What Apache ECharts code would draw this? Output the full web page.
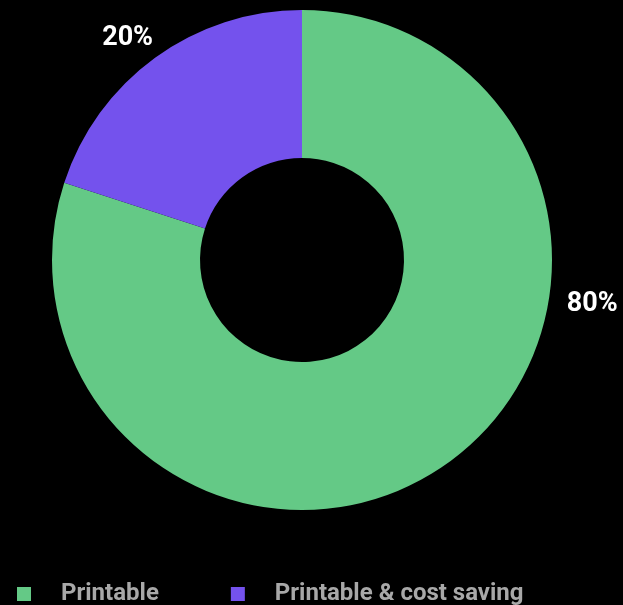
<!DOCTYPE html>
<html>
<head>
<meta charset="utf-8">
<script src="https://cdn.jsdelivr.net/npm/echarts@6/dist/echarts.min.js"></script>
<style>
html,body{margin:0;padding:0;background:#000;}
#chart{width:623px;height:605px;}
</style>
</head>
<body>
<div id="chart"></div>
<script>
var categories = ['Printable', 'Printable & cost saving'];
var values = [80, 20];
var colors = ['#64C986', '#7452ED'];

var chart = echarts.init(document.getElementById('chart'), null, {renderer: 'canvas'});
var CX = 302, CY = 260, R_OUT = 250, R_IN = 102;
// label placement (degrees clockwise from 12 o'clock, distance from centre)
var labelAngles = [98.7, 321.8];
var labelDist = [293.5, 282];

chart.setOption({
  backgroundColor: '#000',
  animation: false,
  color: colors,
  legend: {
    data: categories,
    left: 17,
    top: 582,
    padding: 0,
    icon: 'rect',
    itemWidth: 14,
    itemHeight: 14,
    itemGap: 72,
    textStyle: {
      color: '#a8a8a8',
      fontSize: 24,
      fontWeight: 'bold',
      fontFamily: 'Roboto',
      padding: [0, 0, 0, 25]
    }
  },
  series: [{
    type: 'pie',
    center: [CX, CY],
    radius: [R_IN, R_OUT],
    startAngle: 90,
    clockwise: true,
    avoidLabelOverlap: false,
    itemStyle: {borderWidth: 0},
    label: {
      show: true,
      position: 'outside',
      formatter: function (p) { return p.percent.toFixed(0) + '%'; },
      color: '#ffffff',
      fontSize: 27,
      fontWeight: 'bold',
      fontFamily: 'Roboto'
    },
    labelLine: {show: false},
    labelLayout: function (params) {
      var i = params.dataIndex;
      var a = labelAngles[i] * Math.PI / 180;
      return {
        x: CX + labelDist[i] * Math.sin(a),
        y: CY - labelDist[i] * Math.cos(a),
        align: 'center',
        verticalAlign: 'middle'
      };
    },
    emphasis: {disabled: true},
    data: categories.map(function (c, i) { return {name: c, value: values[i]}; })
  }]
});
</script>
</body>
</html>
